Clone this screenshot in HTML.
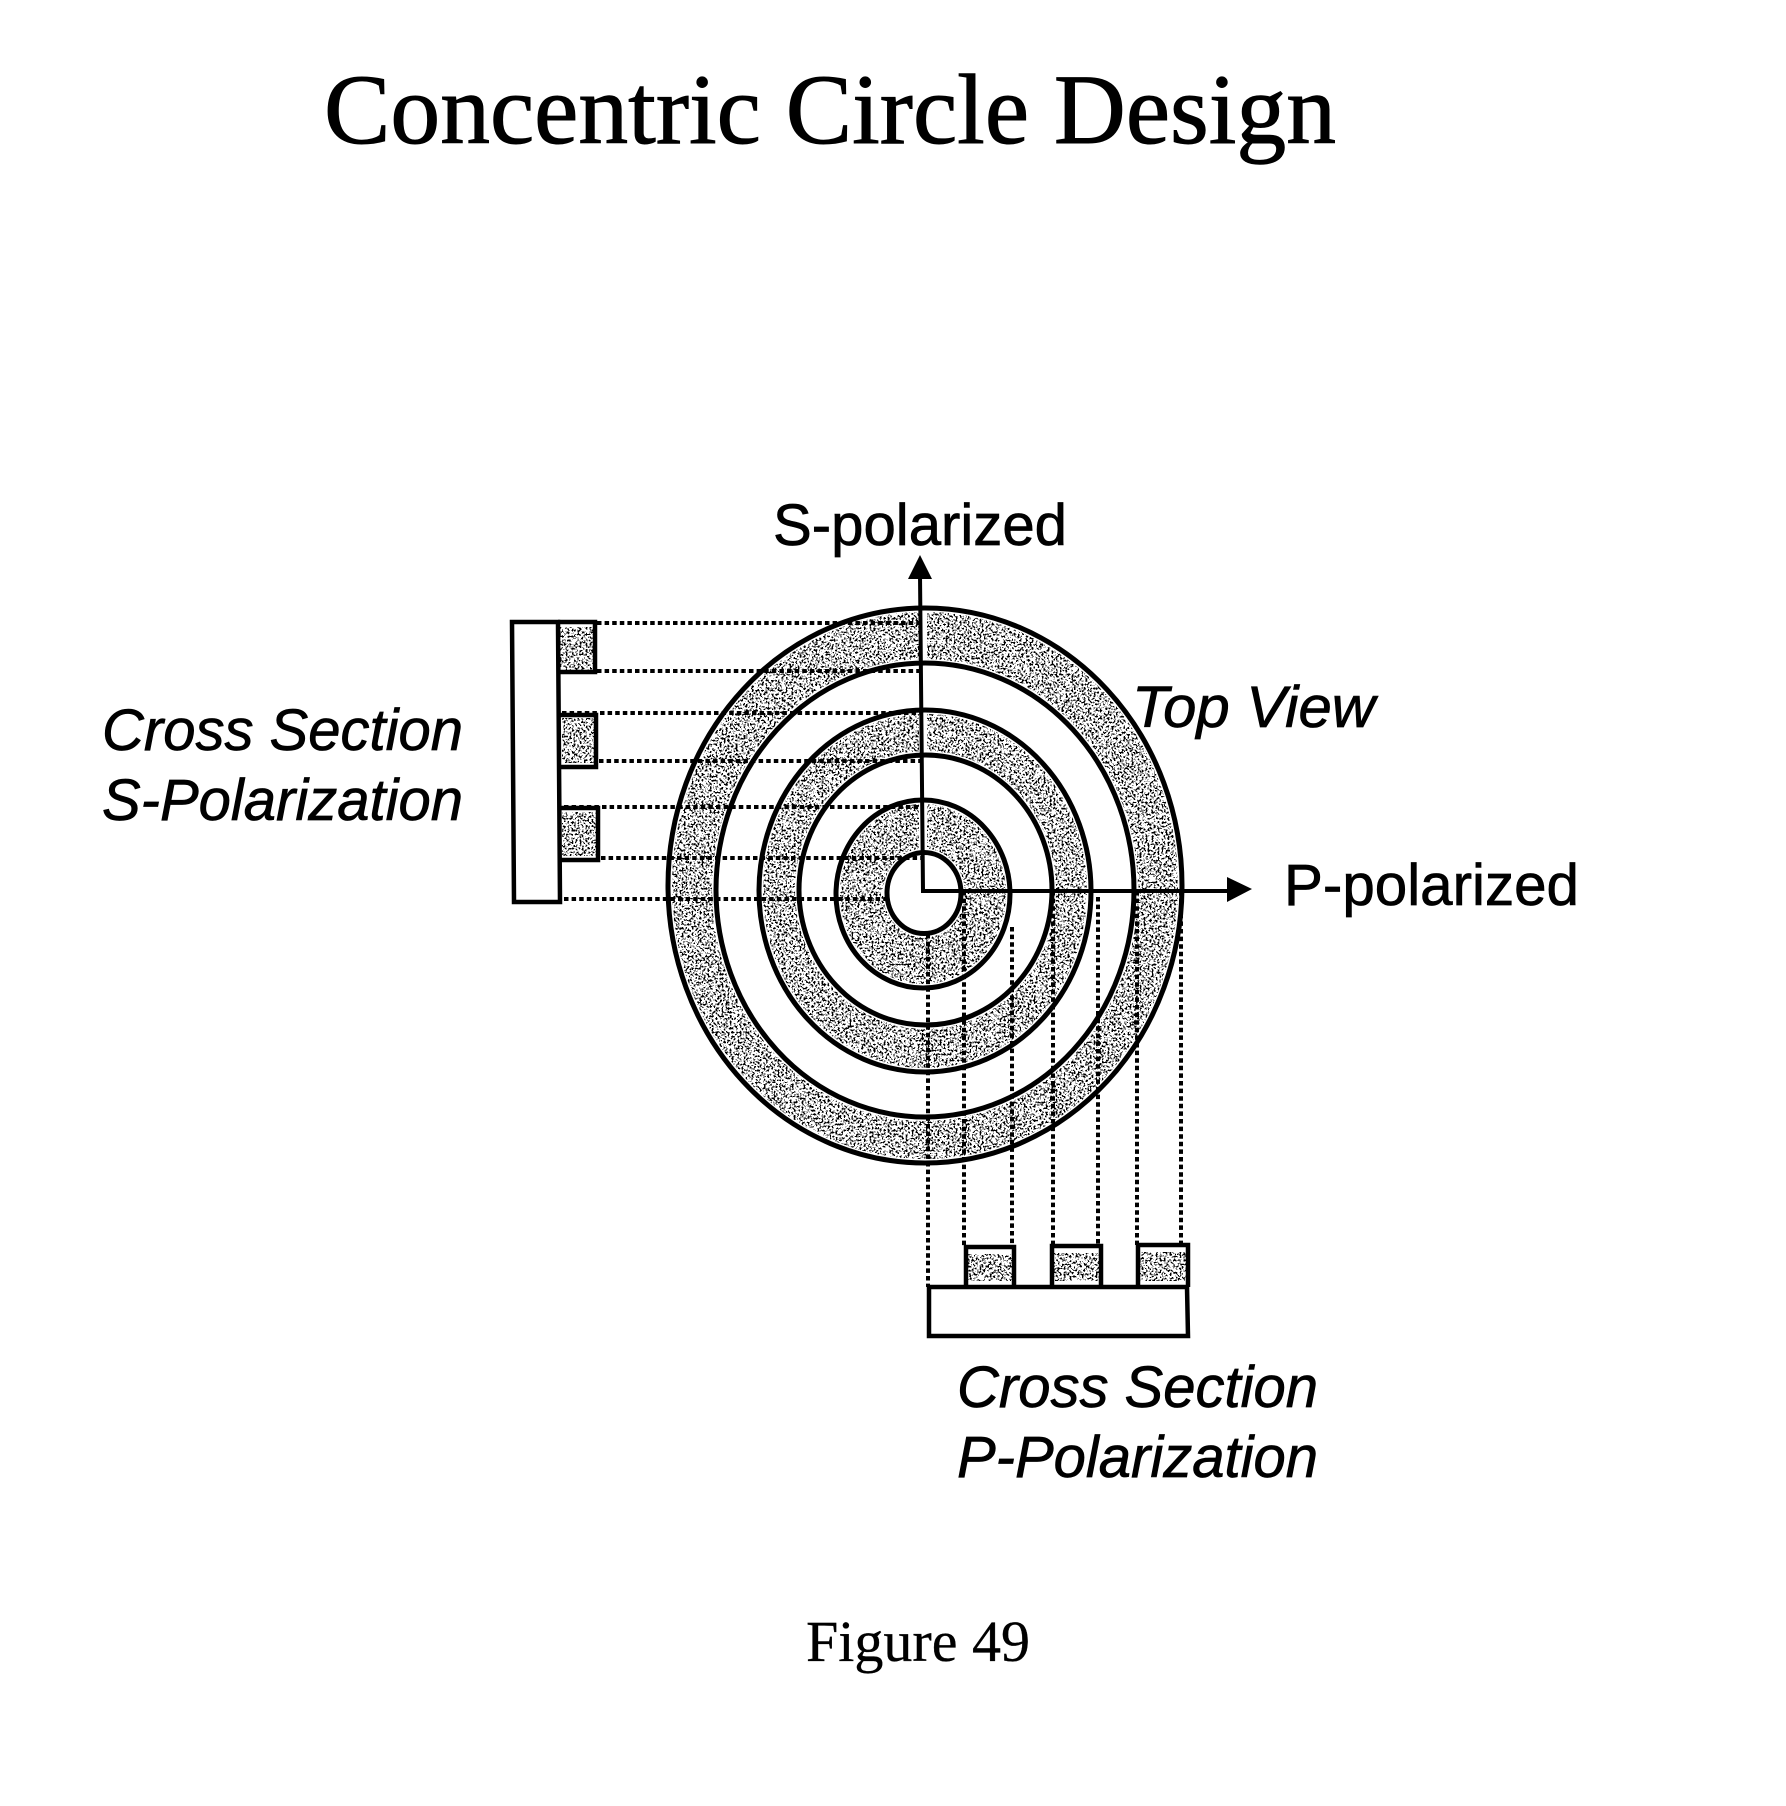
<!DOCTYPE html>
<html><head><meta charset="utf-8"><title>Concentric Circle Design</title>
<style>html,body{margin:0;padding:0;background:#fff}svg{display:block}
.s{font-family:"Liberation Sans",sans-serif;font-size:58px;fill:#000;stroke:#000;stroke-width:.7}
.i{font-style:italic}
.r{font-family:"Liberation Serif",serif;fill:#000;stroke:#000;stroke-width:1}
.d{stroke:#000;stroke-width:4;stroke-dasharray:4.5 3.1;fill:none}
.e{fill:none;stroke:#000;stroke-width:5}
.w{fill:none;stroke:#fff;stroke-width:8}
</style></head><body>
<svg xmlns="http://www.w3.org/2000/svg" width="1786" height="1806" viewBox="0 0 1786 1806">
<defs>
<filter id="n" x="0" y="0" width="100%" height="100%" color-interpolation-filters="sRGB">
<feTurbulence type="fractalNoise" baseFrequency="0.5" numOctaves="2" seed="7" result="t"/>
<feColorMatrix in="t" type="matrix" values="1.6 1.6 0 0 -0.97  1.6 1.6 0 0 -0.97  1.6 1.6 0 0 -0.97  0 0 0 0 1"/>
<feComponentTransfer><feFuncR type="discrete" tableValues="0 1"/><feFuncG type="discrete" tableValues="0 1"/><feFuncB type="discrete" tableValues="0 1"/></feComponentTransfer>
<feComposite in2="SourceAlpha" operator="in"/>
</filter>
</defs>
<rect width="1786" height="1806" fill="#fff"/>

<text class="r" x="324" y="143" font-size="100" textLength="1012" lengthAdjust="spacingAndGlyphs">Concentric Circle Design</text>

<!-- speckled rings -->
<g filter="url(#n)" fill="#fff" fill-rule="evenodd">
<path d="M668 885.5a257 277.5 0 1 0 514 0a257 277.5 0 1 0 -514 0zM716 890a209 227 0 1 0 418 0a209 227 0 1 0 -418 0z"/>
<path d="M759 891a166 181 0 1 0 332 0a166 181 0 1 0 -332 0zM799 890a126.5 135 0 1 0 253 0a126.5 135 0 1 0 -253 0z"/>
<path d="M836 894a87 94 0 1 0 174 0a87 94 0 1 0 -174 0zM887 893a37 40.5 0 1 0 74 0a37 40.5 0 1 0 -74 0z"/>
<rect x="560" y="620" width="35" height="52"/>
<rect x="562" y="715" width="35" height="52"/>
<rect x="562" y="808" width="36" height="52"/>
<rect x="966" y="1247" width="48" height="40"/>
<rect x="1052" y="1246" width="49" height="41"/>
<rect x="1138" y="1245" width="50" height="42"/>
</g>

<!-- white margins around ring edges and right of the axis -->
<ellipse class="w" cx="925" cy="885.5" rx="257" ry="277.5"/>
<ellipse class="w" cx="925" cy="890" rx="209" ry="227"/>
<ellipse class="w" cx="925" cy="891" rx="166" ry="181"/>
<ellipse class="w" cx="925.5" cy="890" rx="126.5" ry="135"/>
<ellipse class="w" cx="923" cy="894" rx="87" ry="94"/>
<ellipse class="w" cx="924" cy="893" rx="37" ry="40.5"/>
<path class="w" d="M923 608V855"/>
<path d="M560 624H595M562 715H596M562 766H597M562 809H597M562 859H597" stroke="#fff" stroke-width="6" fill="none"/>
<path d="M966 1251H1014M1052 1250H1101M1138 1249H1188M966 1284H1014M1052 1284H1101M1138 1284H1188" stroke="#fff" stroke-width="6" fill="none"/>

<!-- projection lines -->
<g>
<path class="d" d="M597 623H921"/>
<path class="d" d="M597 671H921"/>
<path class="d" d="M562 713H921"/>
<path class="d" d="M599 761H921"/>
<path class="d" d="M564 807H921"/>
<path class="d" d="M601 858H921"/>
<path class="d" d="M564 899H887"/>
<path class="d" d="M928 934V1287"/>
<path class="d" d="M964 891V1247"/>
<path class="d" d="M1012 927V1247"/>
<path class="d" d="M1053 891V1246"/>
<path class="d" d="M1098 897V1245"/>
<path class="d" d="M1137 891V1245"/>
<path class="d" d="M1181 891V1245"/>
</g>

<!-- rings -->
<ellipse class="e" cx="925" cy="885.5" rx="257" ry="277.5"/>
<ellipse class="e" cx="925" cy="890" rx="209" ry="227"/>
<ellipse class="e" cx="925" cy="891" rx="166" ry="181"/>
<ellipse class="e" cx="925.5" cy="890" rx="126.5" ry="135"/>
<ellipse class="e" cx="923" cy="894" rx="87" ry="94"/>
<ellipse class="e" cx="924" cy="893" rx="37" ry="40.5"/>

<!-- axes -->
<path d="M920 575L923 891H1232" fill="none" stroke="#000" stroke-width="4"/>
<polygon points="920,555 932,579 908,579" fill="#000"/>
<polygon points="1252,889 1227,877 1227,902" fill="#000"/>

<!-- S cross section -->
<g fill="none" stroke="#000" stroke-width="4.5">
<path d="M512 622H558L560 902H514Z"/>
<path d="M558 622H595V672H559"/>
<path d="M559 715H596V767H560"/>
<path d="M560 808H598V860H561"/>
<!-- P cross section -->
<path d="M929 1287H1187L1188 1336H929Z"/>
<path d="M966 1287V1247H1014V1287"/>
<path d="M1052 1287V1246H1101V1287"/>
<path d="M1138 1287V1245H1188V1287"/>
</g>

<text class="s" x="773" y="545" textLength="294" lengthAdjust="spacingAndGlyphs">S-polarized</text>
<text class="s" x="1284" y="905" textLength="295" lengthAdjust="spacingAndGlyphs">P-polarized</text>
<text class="s i" x="1132" y="727" textLength="243" lengthAdjust="spacingAndGlyphs">Top View</text>
<text class="s i" x="102" y="750" textLength="361" lengthAdjust="spacingAndGlyphs">Cross Section</text>
<text class="s i" x="102" y="820" textLength="361" lengthAdjust="spacingAndGlyphs">S-Polarization</text>
<text class="s i" x="957" y="1407" textLength="361" lengthAdjust="spacingAndGlyphs">Cross Section</text>
<text class="s i" x="957" y="1477" textLength="361" lengthAdjust="spacingAndGlyphs">P-Polarization</text>
<text class="r" x="806" y="1661" font-size="58" stroke-width="0" style="stroke-width:.3" textLength="224" lengthAdjust="spacingAndGlyphs">Figure 49</text>
</svg>
</body></html>
